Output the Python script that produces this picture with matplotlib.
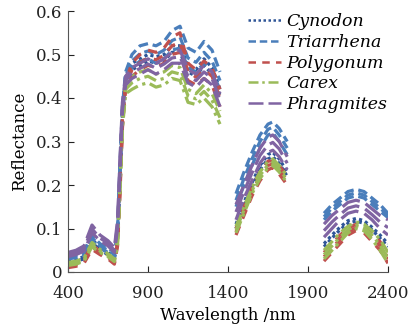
import numpy as np
import matplotlib
matplotlib.use("Agg")
import matplotlib.pyplot as plt

nan = np.nan
wavelength = [400, 450, 500, 550, 600, 650, 690, 710, 725, 740, 760,
              800, 850, 900, 950, 1000, 1050, 1100, 1150, 1200, 1250, 1300, 1350,
              1400,
              1450, 1500, 1550, 1600, 1650, 1680, 1720, 1770,
              1900,
              2000, 2050, 2100, 2150, 2200, 2250, 2300, 2350, 2400]

cynodon_hi = [0.028,0.030,0.035,0.076,0.055,0.045,0.035,0.085,0.230,0.370,0.450, 0.480,0.490,0.500,0.495,0.500,0.520,0.520,0.475,0.465,0.490,0.470,0.420, nan, 0.110,0.160,0.205,0.245,0.270,0.275,0.260,0.230, nan, 0.065,0.085,0.103,0.118,0.123,0.118,0.103,0.085,0.065]
cynodon_lo = [0.022,0.025,0.030,0.068,0.050,0.040,0.030,0.075,0.210,0.350,0.440, 0.465,0.475,0.485,0.480,0.485,0.505,0.505,0.460,0.450,0.475,0.455,0.405, nan, 0.100,0.150,0.195,0.235,0.260,0.265,0.250,0.220, nan, 0.058,0.078,0.097,0.112,0.117,0.112,0.097,0.078,0.058]

triarrhena_hi = [0.040,0.042,0.048,0.085,0.065,0.055,0.045,0.100,0.250,0.380,0.460, 0.500,0.520,0.525,0.520,0.530,0.555,0.565,0.515,0.505,0.530,0.510,0.460, nan, 0.180,0.230,0.275,0.315,0.340,0.345,0.330,0.300, nan, 0.135,0.155,0.170,0.185,0.190,0.185,0.170,0.155,0.135]
triarrhena_mid = [0.035,0.038,0.043,0.079,0.060,0.050,0.040,0.090,0.235,0.370,0.450, 0.485,0.502,0.508,0.500,0.510,0.532,0.540,0.492,0.482,0.505,0.485,0.440, nan, 0.165,0.215,0.260,0.300,0.328,0.333,0.315,0.285, nan, 0.127,0.147,0.162,0.177,0.182,0.177,0.162,0.147,0.130]
triarrhena_lo = [0.030,0.033,0.038,0.072,0.055,0.045,0.035,0.080,0.220,0.360,0.440, 0.470,0.485,0.490,0.480,0.490,0.510,0.515,0.470,0.460,0.480,0.460,0.420, nan, 0.150,0.200,0.245,0.285,0.315,0.320,0.300,0.270, nan, 0.120,0.140,0.155,0.170,0.175,0.170,0.155,0.140,0.125]

polygonum_hi = [0.020,0.022,0.030,0.062,0.048,0.038,0.025,0.070,0.200,0.350,0.440, 0.480,0.500,0.510,0.505,0.515,0.540,0.550,0.480,0.465,0.485,0.470,0.420, nan, 0.100,0.150,0.195,0.230,0.255,0.255,0.245,0.220, nan, 0.045,0.065,0.085,0.100,0.110,0.105,0.090,0.070,0.040]
polygonum_mid = [0.015,0.017,0.025,0.057,0.044,0.034,0.021,0.065,0.190,0.340,0.430, 0.465,0.482,0.492,0.488,0.498,0.520,0.528,0.460,0.448,0.465,0.450,0.400, nan, 0.092,0.140,0.185,0.220,0.245,0.248,0.235,0.210, nan, 0.035,0.055,0.075,0.092,0.102,0.097,0.080,0.060,0.030]
polygonum_lo = [0.010,0.013,0.020,0.052,0.040,0.030,0.018,0.060,0.180,0.330,0.420, 0.450,0.465,0.475,0.470,0.480,0.500,0.505,0.440,0.430,0.445,0.430,0.380, nan, 0.085,0.130,0.175,0.210,0.235,0.240,0.225,0.200, nan, 0.025,0.045,0.065,0.085,0.095,0.090,0.070,0.050,0.020]

carex_hi = [0.022,0.025,0.032,0.068,0.052,0.042,0.030,0.075,0.210,0.350,0.430, 0.450,0.460,0.465,0.455,0.460,0.475,0.470,0.420,0.410,0.430,0.410,0.370, nan, 0.105,0.150,0.195,0.230,0.255,0.260,0.245,0.220, nan, 0.050,0.070,0.090,0.105,0.115,0.110,0.095,0.075,0.045]
carex_mid = [0.018,0.021,0.028,0.063,0.048,0.038,0.027,0.070,0.200,0.340,0.420, 0.435,0.445,0.450,0.440,0.445,0.460,0.455,0.405,0.398,0.415,0.395,0.355, nan, 0.097,0.142,0.187,0.222,0.247,0.252,0.237,0.212, nan, 0.040,0.060,0.080,0.097,0.107,0.102,0.085,0.062,0.032]
carex_lo = [0.015,0.018,0.025,0.058,0.045,0.035,0.024,0.065,0.190,0.330,0.410, 0.420,0.430,0.435,0.425,0.430,0.445,0.440,0.390,0.385,0.400,0.380,0.340, nan, 0.090,0.135,0.180,0.215,0.240,0.245,0.230,0.205, nan, 0.030,0.050,0.070,0.090,0.100,0.095,0.075,0.050,0.020]

phragmites_hi = [0.045,0.050,0.060,0.108,0.085,0.072,0.056,0.120,0.260,0.390,0.450, 0.470,0.480,0.490,0.480,0.490,0.505,0.510,0.465,0.455,0.475,0.460,0.410, nan, 0.155,0.200,0.245,0.285,0.310,0.315,0.300,0.265, nan, 0.110,0.130,0.145,0.160,0.165,0.160,0.145,0.130,0.120]
phragmites_mid = [0.040,0.045,0.054,0.099,0.078,0.066,0.050,0.110,0.245,0.380,0.440, 0.458,0.468,0.478,0.468,0.478,0.492,0.495,0.450,0.440,0.460,0.445,0.395, nan, 0.138,0.185,0.228,0.268,0.292,0.298,0.283,0.250, nan, 0.095,0.115,0.132,0.147,0.152,0.147,0.132,0.115,0.102]
phragmites_lo = [0.035,0.040,0.048,0.090,0.072,0.060,0.045,0.100,0.230,0.370,0.430, 0.445,0.455,0.465,0.455,0.465,0.480,0.480,0.435,0.425,0.445,0.430,0.380, nan, 0.120,0.170,0.210,0.250,0.275,0.280,0.265,0.235, nan, 0.080,0.100,0.120,0.135,0.140,0.135,0.120,0.100,0.085]

species = ["Cynodon", "Triarrhena", "Polygonum", "Carex", "Phragmites"]
curves = [
    [cynodon_hi, cynodon_lo],
    [triarrhena_hi, triarrhena_mid, triarrhena_lo],
    [polygonum_hi, polygonum_mid, polygonum_lo],
    [carex_hi, carex_mid, carex_lo],
    [phragmites_hi, phragmites_mid, phragmites_lo],
]
colors = ["#2f5597", "#4a7ebb", "#c0504d", "#9bbb59", "#8064a2"]
dashes = [(1, 1), (3, 1.5), (3, 2.5), (4, 1.5, 1, 1.5), (6, 2)]

x_ticks = [400, 900, 1400, 1900, 2400]
y_ticks = [0, 0.1, 0.2, 0.3, 0.4, 0.5, 0.6]
y_ticklabels = ["0", "0.1", "0.2", "0.3", "0.4", "0.5", "0.6"]

plt.rcParams["font.family"] = ["DejaVu Serif"]
fig = plt.figure(figsize=(4.11, 3.28), dpi=100)
ax = fig.add_axes([68/411, 1-272/328, 320/411, 261/328])

wl = np.array(wavelength, dtype=float)
for name, group, c, d in zip(species, curves, colors, dashes):
    for i, ys in enumerate(group):
        ax.plot(wl, np.array(ys, dtype=float), color=c, lw=2.3,
                dashes=d, label=name if i == 0 else None)

ax.set_xlim(400, 2400)
ax.set_ylim(0, 0.6)
ax.set_xticks(x_ticks)
ax.set_yticks(y_ticks)
ax.set_yticklabels(y_ticklabels)
ax.tick_params(direction="in", length=4, width=0.8, labelsize=12, colors="#222222")
ax.tick_params(axis="x", pad=9)
ax.tick_params(axis="y", pad=4)
for s in ["top", "right"]:
    ax.spines[s].set_visible(False)
for s in ["left", "bottom"]:
    ax.spines[s].set_color("#555555")
    ax.spines[s].set_linewidth(0.8)

ax.set_xlabel("Wavelength /nm", fontsize=12, labelpad=4)
ax.set_ylabel("Reflectance", fontsize=12, labelpad=6)

leg = fig.legend(loc="upper left", bbox_to_anchor=(248/411, 1-13/328), frameon=False,
                 prop={"family": "DejaVu Serif", "style": "italic", "size": 12.5},
                 handlelength=1.9, handletextpad=0.3, labelspacing=0.22,
                 borderpad=0, borderaxespad=0)
for h in leg.get_lines():
    h.set_linewidth(1.8)

fig.savefig("out.png", dpi=100)
